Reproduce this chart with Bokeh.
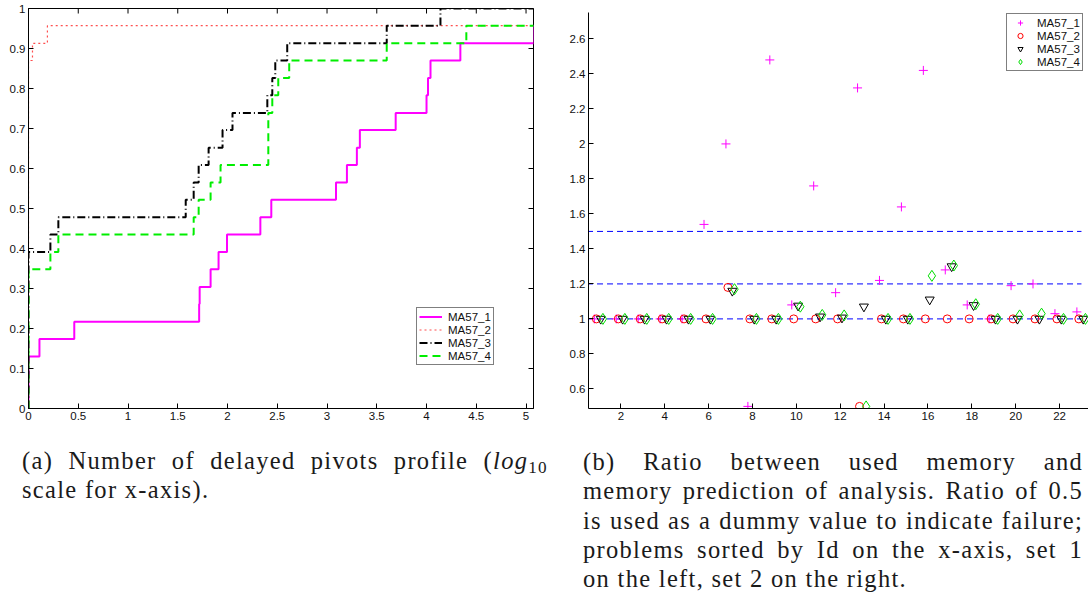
import numpy as np
from bokeh.plotting import figure
from bokeh.models import FixedTicker, Legend, LegendItem, Div
from bokeh.layouts import row, column
from bokeh.embed import file_html
from bokeh.resources import INLINE

# ---------------- data: (a) delayed pivots profile (log10 x) ----------------
series_names = ["MA57_1", "MA57_2", "MA57_3", "MA57_4"]

ma57_1_x = [0.0, 0.0, 0.11, 0.46, 1.715, 1.72, 1.83, 1.91, 1.995, 2.33, 2.44, 3.09, 3.20, 3.30, 3.33, 3.69, 4.00, 4.015, 4.04, 4.34, 5.08, 5.30]
ma57_1_y = [0.0, 0.130, 0.174, 0.217, 0.261, 0.304, 0.348, 0.391, 0.435, 0.478, 0.522, 0.565, 0.609, 0.652, 0.696, 0.739, 0.783, 0.826, 0.870, 0.913, 0.957, 0.957]

ma57_2_x = [0.0, 0.0, 0.04, 0.19, 5.30]
ma57_2_y = [0.0, 0.870, 0.913, 0.957, 0.957]

ma57_3_x = [0.0, 0.0, 0.22, 0.30, 1.58, 1.66, 1.71, 1.81, 1.95, 2.05, 2.40, 2.45, 2.48, 2.60, 3.60, 4.14, 5.30]
ma57_3_y = [0.0, 0.391, 0.435, 0.478, 0.522, 0.565, 0.609, 0.652, 0.696, 0.739, 0.783, 0.826, 0.870, 0.913, 0.957, 1.0, 1.0]

ma57_4_x = [0.0, 0.0, 0.22, 0.30, 1.66, 1.71, 1.83, 1.93, 2.41, 2.45, 2.51, 2.62, 3.60, 4.40, 5.30]
ma57_4_y = [0.0, 0.348, 0.391, 0.435, 0.478, 0.522, 0.565, 0.609, 0.739, 0.783, 0.826, 0.870, 0.913, 0.957, 0.957]

left_xmax = 5.075
left_xticks = [0, 0.5, 1, 1.5, 2, 2.5, 3, 3.5, 4, 4.5, 5]
left_xlabels = ["0", "0.5", "1", "1.5", "2", "2.5", "3", "3.5", "4", "4.5", "5"]
left_yticks = [0, 0.1, 0.2, 0.3, 0.4, 0.5, 0.6, 0.7, 0.8, 0.9, 1]
left_ylabels = ["0", "0.1", "0.2", "0.3", "0.4", "0.5", "0.6", "0.7", "0.8", "0.9", "1"]

# ---------------- data: (b) memory ratio per problem ----------------
problem_id = list(range(1, 24))
ratio_1 = [1.0, 1.0, 1.0, 1.0, 1.0, 1.54, 2.0, 0.5, 2.48, 1.08, 1.76, 1.15, 2.32, 1.22, 1.64, 2.42, 1.28, 1.08, 1.0, 1.19, 1.20, 1.03, 1.04]
ratio_2 = [1.0, 1.0, 1.0, 1.0, 1.0, 1.0, 1.18, 1.0, 1.0, 1.0, 1.0, 1.0, 0.5, 1.0, 1.0, 1.0, 1.0, 1.0, 1.0, 1.0, 1.0, 1.0, 1.0]
ratio_3 = [1.0, 1.0, 1.0, 1.0, 1.0, 1.0, 1.16, 1.0, 1.0, 1.075, 1.013, 1.007, 1.07, 1.0, 1.0, 1.11, 1.30, 1.078, 1.0, 1.0, 1.0, 1.0, 1.0]
ratio_4 = [1.0, 1.0, 1.0, 1.0, 1.0, 1.0, 1.17, 1.0, 1.0, 1.07, 1.023, 1.02, 0.5, 1.0, 1.0, 1.246, 1.305, 1.084, 1.0, 1.02, 1.03, 1.0, 1.0]
reference_levels = [1.0, 1.2, 1.5]
reference_span = [0, 23]

right_xticks = [2, 4, 6, 8, 10, 12, 14, 16, 18, 20, 22]
right_yticks = [0.6, 0.8, 1.0, 1.2, 1.4, 1.6, 1.8, 2.0, 2.2, 2.4, 2.6]
right_ylabels = ["0.6", "0.8", "1", "1.2", "1.4", "1.6", "1.8", "2", "2.2", "2.4", "2.6"]

caption_a = ["(a) Number of delayed pivots profile (<i>log</i><sub style=\"font-size:0.7em;line-height:0;vertical-align:-0.25em\">10</sub>",
             "scale for x-axis)."]
caption_b = ["(b) Ratio between used memory and",
             "memory prediction of analysis. Ratio of 0.5",
             "is used as a dummy value to indicate failure;",
             "problems sorted by Id on the x-axis, set 1",
             "on the left, set 2 on the right."]

SANS = "Liberation Sans"
TICK_FS = "11.5px"


def style_axis(ax, ticks, labels=None):
    ax.ticker = FixedTicker(ticks=ticks)
    if labels is not None:
        ax.major_label_overrides = {t: l for t, l in zip(ticks, labels)}
    ax.major_tick_in = 5
    ax.major_tick_out = 0
    ax.minor_tick_line_color = None
    ax.axis_line_color = "black"
    ax.major_tick_line_color = "black"
    ax.major_label_text_font = SANS
    ax.major_label_text_font_size = TICK_FS
    ax.major_label_text_color = "#111111"
    ax.major_label_standoff = 3


# ---------------- figure (a) ----------------
p1 = figure(x_range=(0, left_xmax), y_range=(0, 1), frame_width=505, frame_height=400,
            min_border_left=28, min_border_right=12, min_border_top=8, min_border_bottom=22,
            output_backend="svg", toolbar_location=None)
p1.grid.visible = False
p1.outline_line_color = "black"
p1.outline_line_width = 1
style_axis(p1.xaxis[0], left_xticks, left_xlabels)
style_axis(p1.yaxis[0], left_yticks, left_ylabels)

# mirrored inward ticks on the top and right edges (half of each dash is clipped by the frame)
p1.scatter(left_xticks, [1] * len(left_xticks), marker="dash", angle=np.pi / 2, size=10,
           line_color="black", line_width=1)
p1.scatter([left_xmax] * len(left_yticks), left_yticks, marker="dash", size=10,
           line_color="black", line_width=1)

r1 = p1.step(ma57_1_x, ma57_1_y, mode="after", line_color="#ff00ff", line_width=2)
r2 = p1.step(ma57_2_x, ma57_2_y, mode="after", line_color="#ff3030", line_width=1.2,
             line_dash="2 3", line_alpha=0.85)
r3 = p1.step(ma57_3_x, ma57_3_y, mode="after", line_color="black", line_width=2,
             line_dash="8 3 1 3")
r4 = p1.step(ma57_4_x, ma57_4_y, mode="after", line_color="#00ee00", line_width=2,
             line_dash="8 5")

leg1 = Legend(items=[LegendItem(label=n, renderers=[r]) for n, r in zip(series_names, [r1, r2, r3, r4])],
              location=(388, 43), orientation="vertical", padding=2, margin=0, spacing=0,
              glyph_width=23, glyph_height=13, label_height=13, label_standoff=6,
              label_text_font=SANS, label_text_font_size=TICK_FS, label_text_color="#111111",
              border_line_color="black", border_line_width=1, background_fill_color="white",
              background_fill_alpha=1)
p1.add_layout(leg1, "center")

# ---------------- figure (b) ----------------
p2 = figure(x_range=(0.523, 23.32), y_range=(0.488, 2.751), frame_width=500, frame_height=396,
            min_border_left=43, min_border_right=0, min_border_top=12, min_border_bottom=23,
            output_backend="svg", toolbar_location=None)
p2.grid.visible = False
p2.outline_line_color = None
style_axis(p2.xaxis[0], right_xticks)
style_axis(p2.yaxis[0], right_yticks, right_ylabels)

p2.segment(x0=reference_span[0], x1=reference_span[1], y0=reference_levels, y1=reference_levels,
           line_color="#0000ff", line_width=1, line_dash="6 4")

pid = np.array(problem_id, dtype=float)
m1 = p2.scatter(pid - 0.21, ratio_1, marker="cross", size=9, line_color="#ff00ff", line_width=1)
m2 = p2.scatter(pid - 0.12, ratio_2, marker="circle", size=8, line_color="#ff0000",
                fill_color=None, line_width=1)
m3 = p2.scatter(pid + 0.08, ratio_3, marker="inverted_triangle", size=9, line_color="black",
                fill_color=None, line_width=1)
m4 = p2.scatter(pid + 0.18, ratio_4, marker="diamond", size=11, line_color="#00dd00",
                fill_color=None, line_width=1)

leg2 = Legend(items=[LegendItem(label=n, renderers=[r]) for n, r in zip(series_names, [m1, m2, m3, m4])],
              location=(418, 337), orientation="vertical", padding=2, margin=0, spacing=0,
              glyph_width=22, glyph_height=13, label_height=13, label_standoff=6,
              label_text_font=SANS, label_text_font_size=TICK_FS, label_text_color="#111111",
              border_line_color="black", border_line_width=1, background_fill_color="white",
              background_fill_alpha=1)
p2.add_layout(leg2, "center")


# ---------------- captions ----------------
def caption_html(lines, width, left):
    parts = []
    for i, ln in enumerate(lines):
        align = "left" if i == len(lines) - 1 else "justify"
        parts.append(f'<div style="width:{width}px;text-align:{align};text-align-last:{align};">{ln}</div>')
    return (f'<div style="font-family:\'Liberation Serif\';font-size:24.5px;line-height:29.3px;'
            f'letter-spacing:1.3px;color:#1a1a1a;margin-left:{left}px;padding-top:16px;">'
            + "".join(parts) + "</div>")


div_a = Div(text=caption_html(caption_a, 526, 22), width=545, height=180, margin=0)
div_b = Div(text=caption_html(caption_b, 500, 38), width=543, height=180, margin=0)

layout = row(column(p1, div_a, spacing=0), column(p2, div_b, spacing=0), spacing=0)
open("out.html", "w").write(file_html(layout, INLINE))
